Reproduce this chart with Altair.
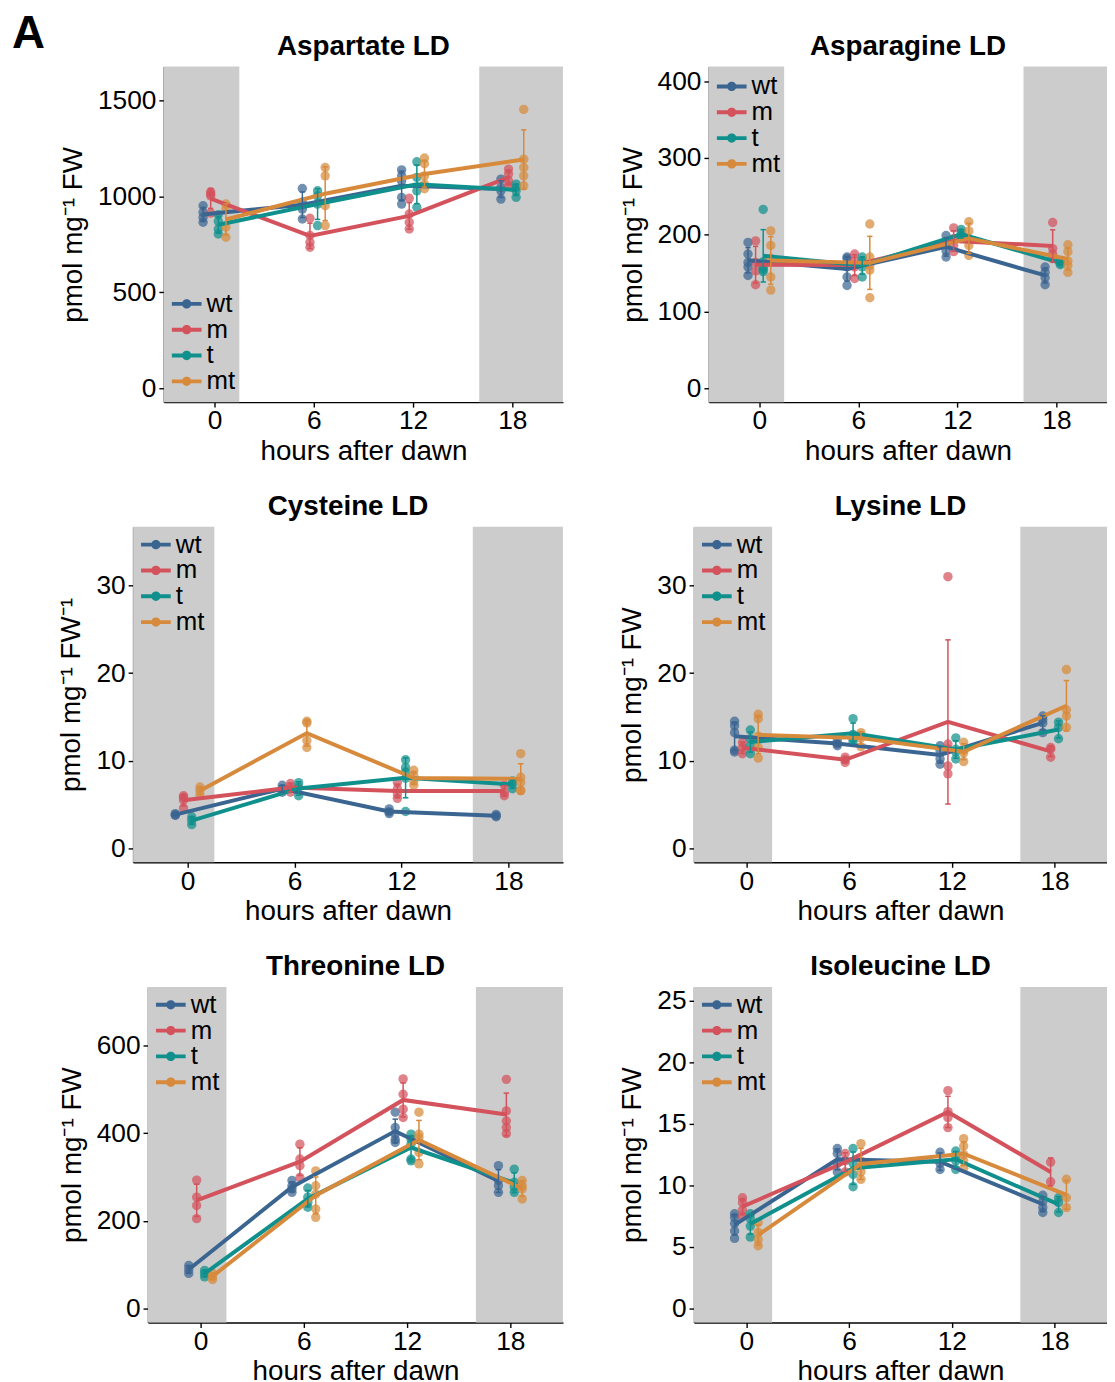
import altair as alt
import pandas as pd

FONT = "Liberation Sans"
GENOS = ["wt", "m", "t", "mt"]
COLORS = ["#3b6591", "#d3525b", "#10908c", "#d78a3b"]
TIMES = [0, 6, 12, 18]
DODGE = [-0.69, -0.23, 0.23, 0.69]
X_TICKS = [0, 6, 12, 18]
X_DOMAIN = [-3.06, 21.06]
NIGHT_START = [-3.06, 16]
NIGHT_END = [1.5, 21.06]
X_TITLE = "hours after dawn"
Y_TITLE = "pmol mg\u207b\u00b9 FW"
Y_TITLE_CYS = "pmol mg\u207b\u00b9 FW\u207b\u00b9"
PANEL_LABEL = "A"

# ---- Aspartate LD (per genotype: values at 0, 6, 12, 18 h) ----
ASP_WT = [[951, 917, 891, 865], [1041, 969, 934, 882], [1138, 1107, 1080, 995, 960], [1090, 1047, 1029, 986]]
ASP_M = [[1024, 1012, 1003, 913], [886, 796, 761, 735], [990, 908, 865, 830], [1142, 1116, 1081, 1055]]
ASP_T = [[905, 870, 830, 804], [1029, 1003, 960, 848], [1180, 1099, 1029, 943], [1064, 1047, 1029, 995]]
ASP_MT = [[960, 934, 839, 787], [1150, 1107, 951, 848], [1200, 1170, 1107, 1064, 1040], [1453, 1194, 1150, 1107, 1055]]

# ---- Asparagine LD ----
ASN_WT = [[190, 175, 164, 158, 147], [171, 169, 158, 145, 134], [199, 188, 179, 171], [158, 151, 144, 135]]
ASN_M = [[192, 164, 153, 135], [175, 166, 158, 143], [209, 195, 186, 178], [216, 182, 175, 169]]
ASN_T = [[233, 165, 158, 155, 152], [171, 166, 158, 145], [207, 203, 199, 195], [166, 163, 161]]
ASN_MT = [[205, 186, 169, 145, 128], [214, 171, 160, 154, 118], [217, 205, 186, 173], [187, 178, 166, 160, 151]]

# ---- Cysteine LD ----
CYS_WT = [[3.96, 3.77, 3.8], [7.2, 6.8, 6.4], [4.5, 4.15, 3.96], [3.85, 3.6, 3.7]]
CYS_M = [[6.0, 5.8, 5.5, 4.6], [7.4, 7.0, 6.4], [7.5, 6.8, 6.2, 5.7], [7.2, 6.4, 6.0]]
CYS_T = [[3.6, 3.2, 2.7], [7.5, 7.0, 6.0], [10.1, 9.2, 8.7, 8.0, 4.2], [7.7, 7.4, 6.8]]
CYS_MT = [[7.0, 6.6, 6.1], [14.5, 14.3, 12.3, 11.5], [8.9, 8.3, 7.7, 7.2], [10.8, 8.1, 7.5, 6.6, 6.6]]

# ---- Lysine LD ----
LYS_WT = [[14.5, 14.0, 13.2, 11.2, 11.0], [12.3, 11.9, 11.7], [11.7, 11.1, 10.2, 9.6], [15.1, 14.7, 14.3, 13.2]]
LYS_M = [[12.1, 11.5, 10.8], [10.4, 9.8, 10.1], [31.0, 11.9, 11.3, 9.4, 8.5], [11.5, 10.4, 11.3]]
LYS_T = [[13.5, 12.5, 11.7, 10.8], [14.8, 13.0, 12.5, 12.2], [12.6, 11.3, 10.2, 11.0], [14.4, 13.8, 12.5]]
LYS_MT = [[15.3, 14.8, 12.8, 10.3, 11.5], [13.2, 12.9, 12.6, 11.6], [12.1, 11.2, 10.9, 9.9], [20.4, 15.8, 15.1, 13.8]]

# ---- Threonine LD ----
THR_WT = [[98, 89, 80], [292, 280, 273, 265], [448, 413, 398, 386, 379], [326, 292, 280, 265]]
THR_M = [[293, 254, 235, 205], [375, 341, 326, 299], [524, 489, 455, 436], [523, 451, 428, 413, 399]]
THR_T = [[87, 80, 72], [275, 254, 242, 231], [398, 386, 375, 341, 337], [318, 288, 277, 265]]
THR_MT = [[81, 73, 66], [314, 280, 261, 227, 208], [448, 398, 390, 356, 330], [292, 280, 273, 250]]

# ---- Isoleucine LD ----
ILE_WT = [[7.7, 7.4, 6.9, 6.3, 5.7], [13.0, 12.6, 11.8, 11.1], [12.7, 11.8, 11.3], [9.2, 8.7, 8.2, 7.8]]
ILE_M = [[9.0, 8.6, 8.0, 7.5], [12.6, 12.0, 11.1], [17.7, 16.0, 15.5, 14.7], [11.9, 10.3]]
ILE_T = [[7.7, 7.3, 6.7, 5.8], [13.0, 11.8, 10.9, 9.9], [12.8, 12.4, 12.0, 11.3], [9.0, 8.6, 7.8]]
ILE_MT = [[7.0, 6.2, 5.6, 5.1], [13.4, 12.0, 11.1, 10.5], [13.8, 13.2, 12.5, 12.0, 11.4], [10.5, 9.0, 8.2]]

# ---- layout / style ----
PLOT_H = 338
HS = 56
VS = 27.5
CAP = 0.16
LEG_X = 10
LEG_PATH = ("M-1.15,-0.15H1.15V0.15H-1.15Z "
            "M0.36,0A0.36,0.36,0,1,1,-0.36,0A0.36,0.36,0,1,1,0.36,0Z")

night_df = pd.DataFrame({"x1": NIGHT_START, "x2": NIGHT_END})
letter_df = pd.DataFrame({"label": [PANEL_LABEL]})


def tidy(series):
    rows = []
    for gi, g in enumerate(GENOS):
        for ti, t in enumerate(TIMES):
            for v in series[gi][ti]:
                rows.append({"geno": g, "time": t, "xd": t + DODGE[gi], "value": v})
    return pd.DataFrame(rows)


def panel(title, series, ydom, yticks, ytitle, group_w, off, legend_y, show_letter=False):
    df = tidy(series)
    xs = alt.Scale(domain=X_DOMAIN, range=[off, group_w], nice=False, zero=False)
    ys = alt.Scale(domain=ydom, nice=False, zero=False)
    xax = alt.Axis(values=X_TICKS, title=X_TITLE, labelFlush=False, labelOverlap=False)
    yax = alt.Axis(values=yticks, title=ytitle, format="d", labelFlush=False,
                   labelOverlap=False, offset=-off)
    cscale = alt.Scale(domain=GENOS, range=COLORS)
    col_nl = alt.Color("geno:N", scale=cscale, legend=None)

    night = alt.Chart(night_df).mark_rect(color="#cccccc").encode(
        x=alt.X("x1:Q", scale=xs, axis=xax), x2="x2:Q",
        y=alt.value(0), y2=alt.value(PLOT_H))

    base = alt.Chart(df)
    X = alt.X("xd:Q", scale=xs, axis=xax)
    pts = base.mark_circle(size=90, opacity=0.72).encode(
        x=X, y=alt.Y("value:Q", scale=ys, axis=yax),
        color=alt.Color("geno:N", scale=cscale, legend=alt.Legend(
            title=None, orient="none", legendX=off + LEG_X, legendY=legend_y,
            symbolType=LEG_PATH, symbolSize=676, symbolOpacity=1,
            symbolStrokeWidth=0, labelFontSize=26, labelFont=FONT,
            labelColor="black", labelOffset=7, rowPadding=0, padding=0)))
    line = base.mark_line(strokeWidth=4).encode(
        x=X, y=alt.Y("mean(value):Q", scale=ys, axis=yax), color=col_nl)
    agg = base.transform_aggregate(
        mu="mean(value)", sd="stdev(value)", groupby=["geno", "xd"]
    ).transform_calculate(
        lo="datum.mu - datum.sd", hi="datum.mu + datum.sd",
        xl="datum.xd - %f" % CAP, xr="datum.xd + %f" % CAP)
    bars = agg.mark_rule(strokeWidth=1.5).encode(
        x=X, y=alt.Y("lo:Q", scale=ys, axis=yax), y2="hi:Q", color=col_nl)
    cap_hi = agg.mark_rule(strokeWidth=1.5).encode(
        x=alt.X("xl:Q", scale=xs, axis=xax), x2="xr:Q",
        y=alt.Y("hi:Q", scale=ys, axis=yax), color=col_nl)
    cap_lo = agg.mark_rule(strokeWidth=1.5).encode(
        x=alt.X("xl:Q", scale=xs, axis=xax), x2="xr:Q",
        y=alt.Y("lo:Q", scale=ys, axis=yax), color=col_nl)
    head = alt.Chart(pd.DataFrame({"t": [title]})).mark_text(
        font=FONT, fontSize=28, fontWeight="bold", align="center",
        baseline="alphabetic", color="black").encode(
        text="t:N", x=alt.value((off + group_w) / 2), y=alt.value(-12))
    layers = [night, pts, line, bars, cap_hi, cap_lo, head]
    if show_letter:
        layers.append(alt.Chart(letter_df).mark_text(
            font=FONT, fontSize=46, fontWeight="bold", align="left",
            baseline="alphabetic", color="black").encode(
            text="label:N", x=alt.value(-122), y=alt.value(-19)))
    return alt.layer(*layers).properties(width=group_w, height=PLOT_H)


p1 = panel("Aspartate LD", [ASP_WT, ASP_M, ASP_T, ASP_MT], [-72, 1676], [0, 500, 1000, 1500], Y_TITLE, 433, 31, 226, True)
p2 = panel("Asparagine LD", [ASN_WT, ASN_M, ASN_T, ASN_MT], [-18, 419], [0, 100, 200, 300, 400], Y_TITLE, 416, 15, 7)
p3 = panel("Cysteine LD", [CYS_WT, CYS_M, CYS_T, CYS_MT], [-1.6, 36.7], [0, 10, 20, 30], Y_TITLE_CYS, 433, 0, 5)
p4 = panel("Lysine LD", [LYS_WT, LYS_M, LYS_T, LYS_MT], [-1.6, 36.7], [0, 10, 20, 30], Y_TITLE, 416, 0, 5)
p5 = panel("Threonine LD", [THR_WT, THR_M, THR_T, THR_MT], [-32, 734], [0, 200, 400, 600], Y_TITLE, 433, 15, 5)
p6 = panel("Isoleucine LD", [ILE_WT, ILE_M, ILE_T, ILE_MT], [-1.13, 26.13], [0, 5, 10, 15, 20, 25], Y_TITLE, 416, 0, 5)

chart = alt.concat(
    p1, p2, p3, p4, p5, p6, columns=2,
    spacing={"row": VS, "column": HS},
).resolve_scale(color="independent").resolve_legend(color="independent").properties(
    padding={"left": 4, "top": -2, "right": 0, "bottom": 0},
).configure_view(stroke=None).configure_axis(
    grid=False, domainColor="black", domainWidth=1.4, tickColor="black", tickWidth=1.4,
    tickSize=5, labelFont=FONT, labelFontSize=26.5, labelColor="black",
    titleFont=FONT, titleFontSize=28, titleFontWeight="normal", titleColor="black",
).configure_axisX(labelPadding=1, titlePadding=3).configure_axisY(labelPadding=3, titlePadding=10)

chart.save("out.html", embed_options={"renderer": "svg", "actions": False})
